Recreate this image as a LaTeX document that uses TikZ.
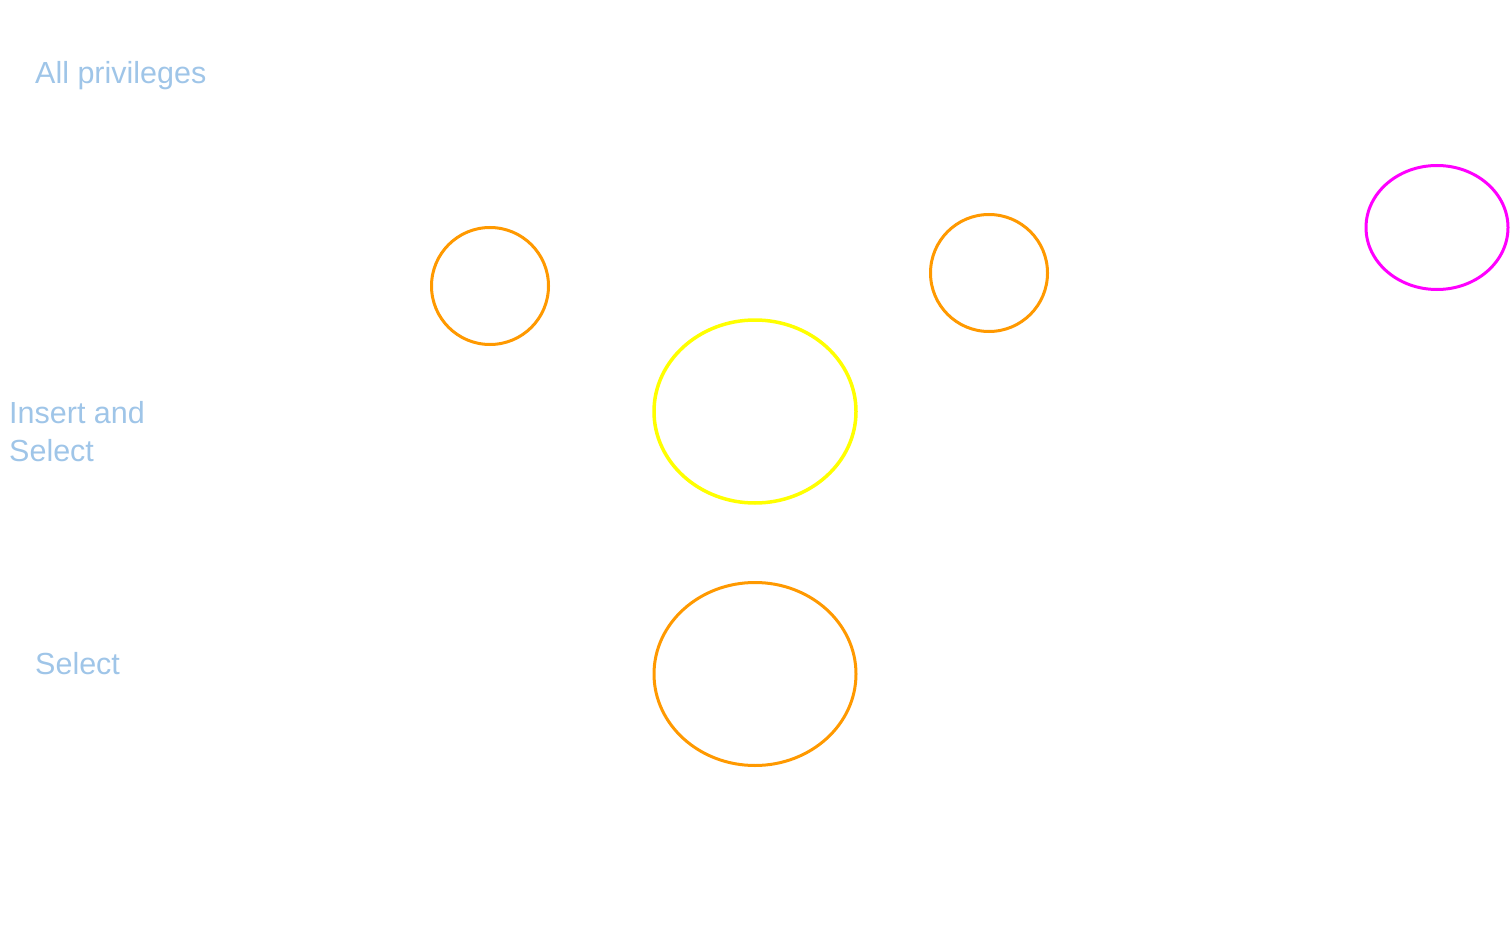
\documentclass[tikz,border=0pt]{standalone}
\usepackage{fontspec}
\setmainfont{Liberation Sans}
\usetikzlibrary{shapes.geometric}
\definecolor{lbl}{HTML}{9FC5E8}
\definecolor{orng}{HTML}{FF9900}
\definecolor{yel}{HTML}{FFFF00}
\definecolor{mag}{HTML}{FF00FF}
\begin{document}
\begin{tikzpicture}[x=1pt,y=-1pt,
  lbltext/.style={inner sep=0pt, anchor=base west, text=lbl, font=\fontsize{30.5}{38}\selectfont, align=left},
  oval/.style={ellipse, draw, line width=3pt, inner sep=0pt}]
\useasboundingbox (0,0) rectangle (1510,944);
\node[lbltext] (allpriv) at (35,83.5) {All privileges};
\node[lbltext] (insel) at (9,461) {Insert and\\Select};
\node[lbltext] (sel) at (35,674) {Select};
\node[oval, draw=orng, minimum width=117pt, minimum height=117pt] (o1) at (490,286) {};
\node[oval, draw=orng, minimum width=117pt, minimum height=117pt] (o2) at (989,273) {};
\node[oval, draw=mag, minimum width=142pt, minimum height=124pt] (m1) at (1437,227.5) {};
\node[oval, draw=yel, line width=3.5pt, minimum width=202pt, minimum height=183pt] (y1) at (755,411.5) {};
\node[oval, draw=orng, minimum width=202pt, minimum height=183pt] (o3) at (755,674) {};
\end{tikzpicture}
\end{document}
